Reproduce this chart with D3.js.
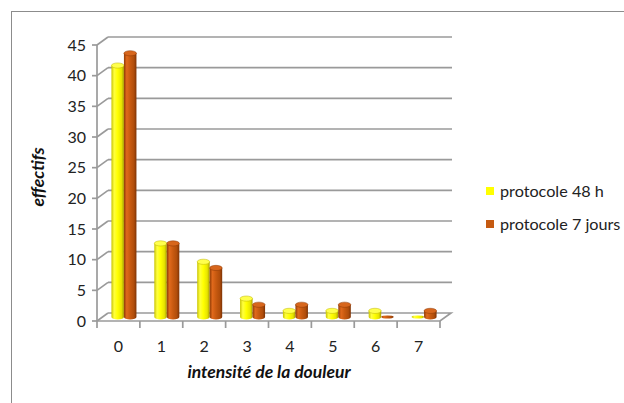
<!DOCTYPE html>
<html>
<head>
<meta charset="utf-8">
<script src="https://cdn.jsdelivr.net/npm/d3@7"></script>
<style>
  html, body { margin: 0; padding: 0; background: #fff; }
  svg { display: block; font-family: Lato, "Open Sans", "Liberation Sans", sans-serif; }
</style>
</head>
<body>
<svg id="chart" width="624" height="403"></svg>
<script>
// Pain intensity levels (x axis)
const categories = ["0", "1", "2", "3", "4", "5", "6", "7"];
// Series names shown in the legend
const seriesNames = ["protocole 48 h", "protocole 7 jours"];
// Counts per pain level
const protocole48h = [41, 12, 9, 3, 1, 1, 1, 0];
const protocole7j = [43, 12, 8, 2, 2, 2, 0, 1];
// Y axis ticks
const yTicks = [0, 5, 10, 15, 20, 25, 30, 35, 40, 45];

const seriesValues = [protocole48h, protocole7j];
const palette = [
  { id: "gYellow", stops: ["#c9c400", "#ffff40", "#ffff00", "#e8e400", "#a9a000"], top: "#ffff4d", key: "#ffff00" },
  { id: "gOrange", stops: ["#8f3c06", "#e0691c", "#c85a10", "#b04d0b", "#7d3305"], top: "#d7661c", key: "#c55a11" }
];

const svg = d3.select("#chart");

// Outer chart area frame
svg.append("rect")
  .attr("x", 11.5).attr("y", 11.5)
  .attr("width", 700).attr("height", 500)
  .attr("fill", "none").attr("stroke", "#8c8c8c").attr("stroke-width", 1);

// Front plane scales and 3D depth offset
const x = d3.scaleBand().domain(categories).range([97, 440]);
const y = d3.scaleLinear().domain([0, 45]).range([321, 45]);
const depth = { dx: 11, dy: -8 };

const defs = svg.append("defs");
palette.forEach(p => {
  const g = defs.append("linearGradient").attr("id", p.id)
    .attr("x1", 0).attr("x2", 1).attr("y1", 0).attr("y2", 0);
  const offs = [0, 0.22, 0.5, 0.8, 1];
  p.stops.forEach((c, i) => g.append("stop").attr("offset", offs[i]).attr("stop-color", c));
});

const gridColor = "#9a9a9a";
const walls = svg.append("g").attr("fill", "none").attr("stroke", gridColor).attr("stroke-width", 1.7);

// Back wall gridlines and left side wall diagonals
yTicks.forEach(t => {
  const yf = y(t);
  if (t > 0) {
    walls.append("line")
      .attr("x1", x.range()[0] + depth.dx).attr("y1", yf + depth.dy)
      .attr("x2", x.range()[1] + depth.dx + 1).attr("y2", yf + depth.dy);
  }
  walls.append("line")
    .attr("x1", x.range()[0]).attr("y1", yf)
    .attr("x2", x.range()[0] + depth.dx).attr("y2", yf + depth.dy);
});

// Floor outline
const x0 = x.range()[0], x1 = x.range()[1], yb = y(0);
walls.append("path")
  .attr("d", `M${x0},${yb} L${x1},${yb} L${x1 + depth.dx},${yb + depth.dy} L${x0 + depth.dx},${yb + depth.dy}`)
  .attr("stroke-linejoin", "miter");

// Value axis line and ticks
walls.append("line").attr("x1", x0).attr("y1", y(45)).attr("x2", x0).attr("y2", yb);
yTicks.forEach(t => {
  walls.append("line").attr("x1", x0 - 5).attr("y1", y(t)).attr("x2", x0).attr("y2", y(t));
});
// Category axis ticks at band edges
categories.concat([null]).forEach((c, i) => {
  const xp = c === null ? x1 : x(c);
  walls.append("line").attr("x1", xp).attr("y1", yb).attr("x2", xp).attr("y2", yb + 7);
});

// Y tick labels
svg.append("g").selectAll("text").data(yTicks).join("text")
  .attr("x", 86).attr("y", d => y(d) + 5.5)
  .attr("text-anchor", "end").attr("font-size", 16).attr("fill", "#222")
  .text(d => d);

// X tick labels
svg.append("g").selectAll("text").data(categories).join("text")
  .attr("x", d => x(d) + x.bandwidth() / 2).attr("y", 352)
  .attr("text-anchor", "middle").attr("font-size", 16).attr("fill", "#222")
  .text(d => d);

// Cylinders, placed halfway into the depth
const inner = d3.scaleBand().domain(d3.range(seriesNames.length)).range([-12.5, 12.5]);
const midDx = depth.dx / 2, midDy = depth.dy / 2;
const ry = 2.6;

const bars = svg.append("g");
categories.forEach((c, ci) => {
  seriesValues.forEach((vals, si) => {
    const v = vals[ci];
    const p = palette[si];
    const left = x(c) + x.bandwidth() / 2 + inner(si) + midDx;
    const w = inner.bandwidth();
    const rx = w / 2;
    const base = y(0) + midDy;
    const top = y(v) + midDy;
    if (v > 0) {
      bars.append("path")
        .attr("d", `M${left},${top} L${left},${base} A${rx},${ry} 0 0 0 ${left + w},${base} L${left + w},${top} Z`)
        .attr("fill", `url(#${p.id})`);
      bars.append("ellipse")
        .attr("cx", left + rx).attr("cy", top).attr("rx", rx).attr("ry", ry)
        .attr("fill", p.top).attr("stroke", d3.color(p.stops[4]).brighter(0.3)).attr("stroke-width", 0.5);
    } else {
      bars.append("ellipse")
        .attr("cx", left + rx).attr("cy", base).attr("rx", rx).attr("ry", 1.6)
        .attr("fill", `url(#${p.id})`);
    }
  });
});

// Axis titles
svg.append("text")
  .attr("transform", "translate(44,177) rotate(-90)")
  .attr("text-anchor", "middle").attr("font-size", 17.5)
  .attr("font-weight", "bold").attr("font-style", "italic").attr("fill", "#111")
  .text("effectifs");
svg.append("text")
  .attr("x", 269).attr("y", 378)
  .attr("text-anchor", "middle").attr("font-size", 17.5)
  .attr("font-weight", "bold").attr("font-style", "italic").attr("fill", "#111")
  .text("intensité de la douleur");

// Legend
const legend = svg.append("g");
seriesNames.forEach((name, i) => {
  const ly = 191 + i * 33;
  legend.append("rect").attr("x", 486).attr("y", ly - 4).attr("width", 8).attr("height", 8)
    .attr("fill", palette[i].key);
  legend.append("text").attr("x", 500).attr("y", ly + 5.5)
    .attr("font-size", 16.2).attr("fill", "#222").text(name);
});
</script>
</body>
</html>
